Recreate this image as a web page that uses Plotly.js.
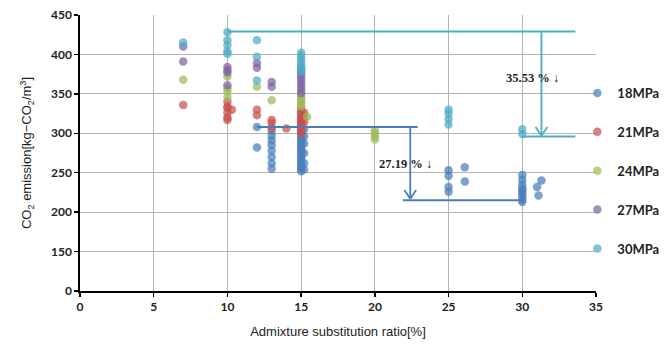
<!DOCTYPE html>
<html><head><meta charset="utf-8">
<script src="https://cdn.plot.ly/plotly-3.0.1.min.js"></script>
<style>html,body{margin:0;padding:0;background:#fff}#chart{width:670px;height:348px}</style>
</head><body><div id="chart"></div>
<script>
// Series names and colours
const seriesNames = ["18MPa","21MPa","24MPa","27MPa","30MPa"];
const seriesColors = ["#4A7EBB","#C9504D","#9BBB59","#8064A2","#4BACC6"];

// 18MPa
const x18 = [12,12,13,13,13,13,13,13,13,13,
  15,15,15,15,15,15,15,15,15,15,15,15,15,15,15,15,15,15,15,15,15,
  15.2,15.2,15.2,15.2,15.2,15.2,
  25,25,25,25,26.1,26.1,
  30,30,30,30,30,30,30,30,30,31.3,31,31.1];
const y18 = [308,282,303,297,291,285,278,270,262,255,
  313,310,306,303,300,297,294,291,288,285,282,279,276,273,270,267,264,261,258,255,252,
  305,296,287,275,262,254,
  253,246,232,226,257,239,
  247,241,235,230,228,224,220,216,213,240,232,221];
// 21MPa
const x21 = [7,10,10,10,10.3,10,10,10,12,12,13,13,13,14,
  15,15,15,15,15,15,15,15,15,15,15,15.2,15.2,15.2];
const y21 = [336,340,334,332,330,326,320,317,330,323,317,313,307,306,
  332,328,325,322,319,316,313,310,307,304,300,326,320,314];
// 24MPa
const x24 = [7,10,10,10,10,12,13,15,15,15,15,15,15,15.4,20,20,20,20];
const y24 = [368,372,357,353,346,359,342,349,346,343,340,337,334,321,304,300,296,292];
// 27MPa
const x27 = [7,7,10,10,10,10,12,12,13,13,15,15,15,15,15,15,15,15,15];
const y27 = [410,391,384,380,377,361,389,383,365,359,383,379,375,371,367,363,359,355,351];
// 30MPa
const x30 = [7,10,10,10,10,10,12,12,12,15,15,15,15,15,15,15,25,25,25,25,30,30];
const y30 = [415,428,418,412,404,401,418,397,367,402,398,394,390,386,382,378,330,325,318,311,305,299];

// Axis ticks (value axis starts at 100 drawn as "0")
const yTickVals = [100,150,200,250,300,350,400,450];
const yTickText = ["0","150","200","250","300","350","400","450"];
const xTickVals = [0,5,10,15,20,25,30,35];

// Reduction guide lines: [x0, x1, y]
const cyanLines = [[10,33.6,429],[30,33.6,296]];
const blueLines = [[12,22.9,308],[21.9,30.1,215]];
// Arrows: [x, yFrom, yTo]
const cyanArrow = [31.3,429,297];
const blueArrow = [22.4,308,217];
// Labels: [text, x, y]
const labels = [["35.53 % ↓",30.7,370],["27.19 % ↓",22.1,261]];

const xs = [x18,x21,x24,x27,x30];
const ys = [y18,y21,y24,y27,y30];
const traces = seriesNames.map((n,i)=>({
  type:"scatter", mode:"markers", name:n, x:xs[i], y:ys[i],
  legendgroup:n,
  marker:{color:seriesColors[i], size:8.5, opacity:0.72, line:{width:0}}
}));

const shapes = [];
function hline(l,c){shapes.push({type:"line",xref:"x",yref:"y",x0:l[0],x1:l[1],y0:l[2],y1:l[2],line:{color:c,width:2}});}
cyanLines.forEach(l=>hline(l,"#4BACC6"));
blueLines.forEach(l=>hline(l,"#4A7EBB"));
function arrow(a,c){
  shapes.push({type:"line",xref:"x",yref:"y",x0:a[0],x1:a[0],y0:a[1],y1:a[2],line:{color:c,width:1.8}});
  shapes.push({type:"line",xref:"x",yref:"y",x0:a[0]-0.4,x1:a[0],y0:a[2]+11,y1:a[2],line:{color:c,width:1.8}});
  shapes.push({type:"line",xref:"x",yref:"y",x0:a[0]+0.4,x1:a[0],y0:a[2]+11,y1:a[2],line:{color:c,width:1.8}});
}
arrow(cyanArrow,"#4BACC6");
arrow(blueArrow,"#4A7EBB");

const annotations = labels.map(l=>({x:l[1],y:l[2],xref:"x",yref:"y",text:l[0],showarrow:false,
  font:{family:"Liberation Serif",size:12.5,color:"#222",weight:"bold"}}));

const tickFont = {family:"Lato, Liberation Sans, sans-serif",size:12,color:"#222",weight:"bold"};
const layout = {
  width:670,height:348,
  margin:{l:80,r:0,t:15,b:57},
  paper_bgcolor:"#fff",plot_bgcolor:"#fff",
  showlegend:true,
  legend:{x:0.843,xanchor:"left",y:0.435,yanchor:"middle",
    font:{family:"Lato, Liberation Sans, sans-serif",size:13,color:"#222",weight:"bold"},
    tracegroupgap:19,itemwidth:30,bgcolor:"rgba(0,0,0,0)"},
  xaxis:{range:[0,35],domain:[0,0.8746],tickvals:xTickVals,showgrid:true,gridcolor:"#b4b4b4",gridwidth:1,
    showline:true,linecolor:"#000",linewidth:1.6,ticks:"outside",ticklen:4,tickcolor:"#000",tickwidth:1.5,
    zeroline:false,tickfont:tickFont,automargin:false,
    title:{text:"Admixture substitution ratio[%]",font:{family:"Liberation Sans, Arial, sans-serif",size:13,color:"#222"},standoff:14}},
  yaxis:{range:[100,450],tickvals:yTickVals,ticktext:yTickText,showgrid:true,gridcolor:"#b4b4b4",gridwidth:1,
    showline:true,linecolor:"#000",linewidth:1.6,ticks:"outside",ticklen:4,tickcolor:"#000",tickwidth:1.5,
    zeroline:false,tickfont:tickFont,automargin:false,
    title:{text:"CO<sub>2</sub> emission[kg−CO<sub>2</sub>/m<sup>3</sup>]",font:{family:"Liberation Sans, Arial, sans-serif",size:13,color:"#222"},standoff:16}},
  shapes:shapes, annotations:annotations
};
Plotly.newPlot("chart",traces,layout,{displayModeBar:false,staticPlot:true});
</script></body></html>
